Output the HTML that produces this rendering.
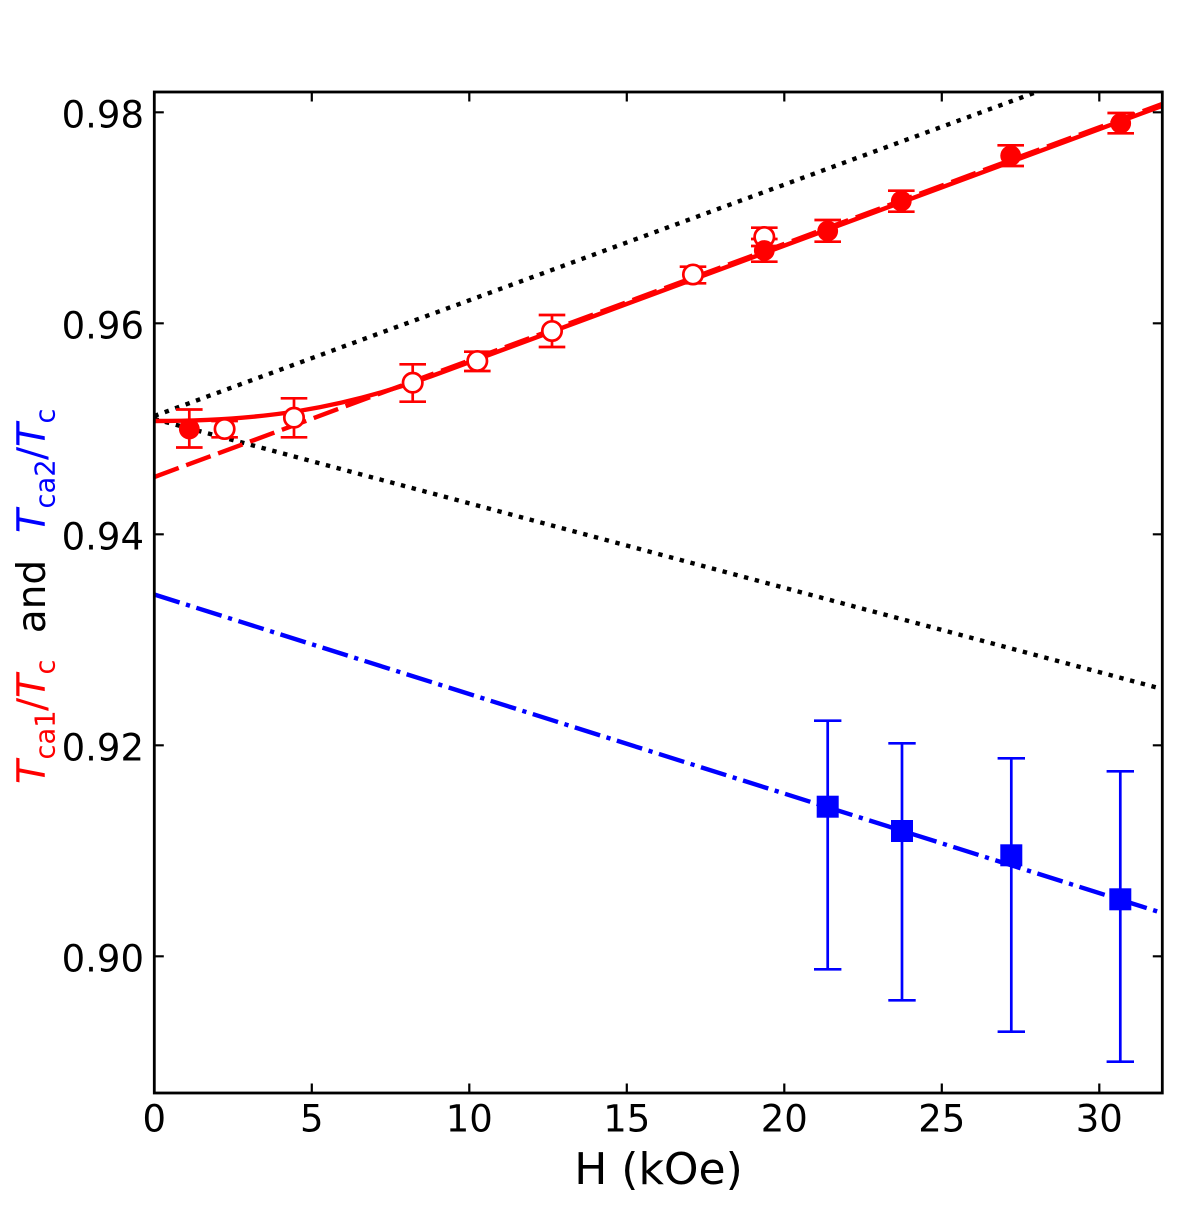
<!DOCTYPE html>
<html>
<head>
<meta charset="utf-8">
<style>
  html, body { margin: 0; padding: 0; background: #ffffff; }
  svg { display: block; }
  text { font-family: "DejaVu Sans", "Liberation Sans", sans-serif; }
</style>
</head>
<body>
<svg width="1177" height="1206" viewBox="0 0 1177 1206" xmlns="http://www.w3.org/2000/svg">
  <rect x="0" y="0" width="1177" height="1206" fill="#ffffff"/>
  <defs>
    <clipPath id="ax">
      <rect x="154.3" y="92" width="1008" height="1001"/>
    </clipPath>
  </defs>

  <!-- lines -->
  <g clip-path="url(#ax)" fill="none" stroke-linecap="butt">
    <path d="M154.3,416 L1162.3,45.8" stroke="#000" stroke-width="4.4" stroke-dasharray="4.4 6.7"/>
    <path d="M154.3,419 L1162.3,689" stroke="#000" stroke-width="4.4" stroke-dasharray="4.4 6.7"/>
    <path d="M154.3,594.5 L1162.3,913" stroke="#0000ff" stroke-width="4.4" stroke-dasharray="26.5 6.7 4.2 6.7"/>
    <path d="M154.3,477 L1162.3,104" stroke="#ff0000" stroke-width="4.4" stroke-dasharray="26 8"/>
    <path d="M154.3,421 C260,421 340,410 440,373 L1162.3,105.8" stroke="#ff0000" stroke-width="4.4"/>
  </g>

  <!-- red error bars -->
  <g stroke="#ff0000" stroke-width="2.7" fill="none">
    <path d="M189.3,409.5 V447.5 M176,409.5 H202.6 M176,447.5 H202.6"/>
    <path d="M224.6,421 V437.3 M211.3,421 H237.9 M211.3,437.3 H237.9"/>
    <path d="M294,398.3 V437.3 M280.7,398.3 H307.3 M280.7,437.3 H307.3"/>
    <path d="M412.7,364.3 V401.7 M399.4,364.3 H426 M399.4,401.7 H426"/>
    <path d="M477.3,351.7 V371 M464,351.7 H490.6 M464,371 H490.6"/>
    <path d="M552,315 V347 M538.7,315 H565.3 M538.7,347 H565.3"/>
    <path d="M693,266.7 V283.3 M679.7,266.7 H706.3 M679.7,283.3 H706.3"/>
    <path d="M764.3,227.7 V246 M751,227.7 H777.6 M751,246 H777.6"/>
    <path d="M764.3,239 V261.7 M751,239 H777.6 M751,261.7 H777.6"/>
    <path d="M827.7,220 V241.7 M814.4,220 H841 M814.4,241.7 H841"/>
    <path d="M901.3,190.7 V211.7 M888,190.7 H914.6 M888,211.7 H914.6"/>
    <path d="M1010.7,145.3 V166 M997.4,145.3 H1024 M997.4,166 H1024"/>
    <path d="M1120.7,113 V133.3 M1107.4,113 H1134 M1107.4,133.3 H1134"/>
  </g>

  <!-- blue error bars -->
  <g stroke="#0000ff" stroke-width="2.7" fill="none">
    <path d="M827.7,720.7 V969.3 M814,720.7 H841.4 M814,969.3 H841.4"/>
    <path d="M902,743.3 V1000.3 M888.3,743.3 H915.7 M888.3,1000.3 H915.7"/>
    <path d="M1011.3,758.3 V1031.7 M997.6,758.3 H1025 M997.6,1031.7 H1025"/>
    <path d="M1120.3,771.3 V1061.7 M1106.6,771.3 H1134 M1106.6,1061.7 H1134"/>
  </g>

  <!-- red markers -->
  <g fill="#ff0000">
    <circle cx="189.3" cy="429" r="10.4"/>
  </g>
  <g fill="#ffffff" stroke="#ff0000" stroke-width="2.7">
    <circle cx="224.6" cy="429" r="9.7"/>
    <circle cx="294" cy="417.7" r="9.7"/>
    <circle cx="412.7" cy="382.7" r="9.7"/>
    <circle cx="477.3" cy="361" r="9.7"/>
    <circle cx="552" cy="331" r="9.7"/>
    <circle cx="693" cy="274.5" r="9.7"/>
    <circle cx="764.3" cy="237" r="9.7"/>
  </g>
  <g fill="#ff0000">
    <circle cx="764.3" cy="250.5" r="10.4"/>
    <circle cx="827.7" cy="231" r="10.4"/>
    <circle cx="901.3" cy="201" r="10.4"/>
    <circle cx="1010.7" cy="155.7" r="10.4"/>
    <circle cx="1120.7" cy="123.3" r="10.4"/>
  </g>

  <!-- blue markers -->
  <g fill="#0000ff">
    <rect x="816.7" y="795.7" width="22" height="22"/>
    <rect x="891" y="820" width="22" height="22"/>
    <rect x="1000.3" y="844.3" width="22" height="22"/>
    <rect x="1109.3" y="888.3" width="22" height="22"/>
  </g>

  <!-- ticks -->
  <g stroke="#000" stroke-width="2.2" fill="none">
    <path d="M311.8,1093 v-9.5 M469.3,1093 v-9.5 M626.8,1093 v-9.5 M784.3,1093 v-9.5 M941.8,1093 v-9.5 M1099.3,1093 v-9.5"/>
    <path d="M311.8,92 v9.5 M469.3,92 v9.5 M626.8,92 v9.5 M784.3,92 v9.5 M941.8,92 v9.5 M1099.3,92 v9.5"/>
    <path d="M154.3,112.3 h9.5 M154.3,323.3 h9.5 M154.3,534.3 h9.5 M154.3,745.3 h9.5 M154.3,956.3 h9.5"/>
    <path d="M1162.3,112.3 h-9.5 M1162.3,323.3 h-9.5 M1162.3,534.3 h-9.5 M1162.3,745.3 h-9.5 M1162.3,956.3 h-9.5"/>
  </g>

  <!-- axes frame -->
  <rect x="154.3" y="92" width="1008" height="1001" fill="none" stroke="#000" stroke-width="2.8"/>

  <!-- y tick labels -->
  <g font-size="37" fill="#000" text-anchor="end">
    <text x="144" y="127.5">0.98</text>
    <text x="144" y="338.5">0.96</text>
    <text x="144" y="549.5">0.94</text>
    <text x="144" y="760.5">0.92</text>
    <text x="144" y="971.5">0.90</text>
  </g>

  <!-- x tick labels -->
  <g font-size="37" fill="#000" text-anchor="middle">
    <text x="154.3" y="1131.3">0</text>
    <text x="311.8" y="1131.3">5</text>
    <text x="469.3" y="1131.3">10</text>
    <text x="626.8" y="1131.3">15</text>
    <text x="784.3" y="1131.3">20</text>
    <text x="941.8" y="1131.3">25</text>
    <text x="1099.3" y="1131.3">30</text>
  </g>

  <!-- x label -->
  <text x="658.5" y="1184" font-size="44" text-anchor="middle" fill="#000">H (kOe)</text>

  <!-- y label -->
  <g transform="translate(45,594) rotate(-90)">
    <g fill="#ff0000">
      <text x="-190" y="0" font-size="39" font-style="italic">T</text>
      <text x="-165.5" y="9.5" font-size="27.3">ca1</text>
      <text x="-117" y="0" font-size="39">/</text>
      <text x="-104" y="0" font-size="39" font-style="italic">T</text>
      <text x="-80.5" y="9.5" font-size="27.3">c</text>
    </g>
    <text x="-2.5" y="0" font-size="39" text-anchor="middle" fill="#000">and</text>
    <g fill="#0000ff">
      <text x="61" y="0" font-size="39" font-style="italic">T</text>
      <text x="85.5" y="9.5" font-size="27.3">ca2</text>
      <text x="134" y="0" font-size="39">/</text>
      <text x="147" y="0" font-size="39" font-style="italic">T</text>
      <text x="170.5" y="9.5" font-size="27.3">c</text>
    </g>
  </g>
</svg>
</body>
</html>
